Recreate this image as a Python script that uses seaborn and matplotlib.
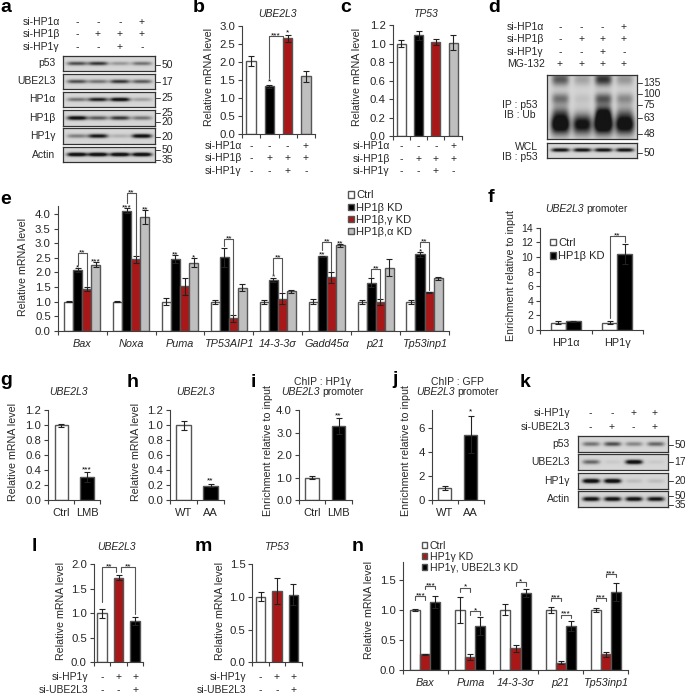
import numpy as np
import pandas as pd
import matplotlib
matplotlib.use("Agg")
import matplotlib.pyplot as plt
from matplotlib.lines import Line2D
from matplotlib.transforms import Affine2D
import seaborn as sns

# =========================
# Data
# =========================
WHITE, BLACK, RED, GREY = "#ffffff", "#000000", "#c00000", "#bfbfbf"

# bar panels
b_vals = [2.02, 1.32, 2.65, 1.60]
b_errs = [0.13, 0.05, 0.10, 0.15]
c_vals = [1.00, 1.09, 1.02, 1.01]
c_errs = [0.04, 0.05, 0.03, 0.08]

e_genes = ["Bax", "Noxa", "Puma", "TP53AIP1", "14-3-3σ", "Gadd45α", "p21", "Tp53inp1"]
e_conds = ["Ctrl", "HP1β KD", "HP1β,γ KD", "HP1β,α KD"]
e_vals = [[1.00, 2.08, 1.43, 2.27], [1.00, 4.12, 2.45, 3.90], [1.00, 2.45, 1.52, 2.34],
          [1.00, 2.52, 0.42, 1.48], [1.00, 1.75, 1.10, 1.35], [1.00, 2.55, 1.83, 2.93],
          [1.00, 1.65, 0.98, 2.17], [1.00, 2.62, 1.32, 1.80]]
e_errs = [[0.02, 0.06, 0.08, 0.08], [0.02, 0.08, 0.12, 0.24], [0.13, 0.14, 0.28, 0.15],
          [0.07, 0.33, 0.12, 0.12], [0.07, 0.07, 0.18, 0.06], [0.09, 0.03, 0.20, 0.05],
          [0.07, 0.15, 0.10, 0.28], [0.07, 0.08, 0.02, 0.05]]

f_groups = ["HP1α", "HP1γ"]
f_conds = ["Ctrl", "HP1β KD"]
f_vals = [[1.0, 1.2], [1.0, 10.4]]
f_errs = [[0.2, 0.1], [0.2, 1.4]]

g_vals, g_errs = [1.00, 0.31], [0.02, 0.07]
h_vals, h_errs = [1.00, 0.19], [0.06, 0.02]
i_vals, i_errs = [1.00, 3.30], [0.08, 0.37]
j_vals, j_errs = [1.00, 5.45], [0.15, 1.55]
l_vals, l_errs = [1.00, 1.72, 0.84], [0.09, 0.05, 0.09]
m_vals, m_errs = [1.00, 1.09, 1.03], [0.07, 0.20, 0.16]

n_genes = ["Bax", "Puma", "14-3-3σ", "p21", "Tp53inp1"]
n_conds = ["Ctrl", "HP1γ KD", "HP1γ, UBE2L3 KD"]
n_vals = [[1.00, 0.26, 1.13], [1.00, 0.22, 0.73], [1.00, 0.36, 1.28], [1.00, 0.12, 0.73], [1.00, 0.26, 1.30]]
n_errs = [[0.015, 0.01, 0.10], [0.22, 0.05, 0.15], [0.09, 0.06, 0.07], [0.05, 0.03, 0.09], [0.03, 0.04, 0.15]]

# brackets: (first bar, second bar, left foot, right foot, top, stars)
e_brackets = [(1, 2, 2.25, 1.55, 2.66, "**"), (5, 6, 4.40, 2.55, 4.74, "**"), (13, 14, 2.90, 0.55, 3.14, "**"),
              (17, 18, 1.90, 1.32, 2.50, "**"), (21, 22, 2.77, 2.05, 3.06, "**"), (25, 26, 1.85, 1.10, 2.12, "**"),
              (29, 30, 2.88, 1.40, 3.06, "**")]
# stars over single bars: (bar, height, stars)
e_stars = [(1, 2.24, "*"), (3, 2.45, "***"), (5, 4.30, "***"), (7, 4.25, "**"), (9, 2.70, "**"), (11, 2.60, "*"),
           (17, 1.92, "*"), (21, 2.68, "**"), (23, 3.08, "**"), (29, 2.80, "*")]
f_brackets = [(2, 3, 1.6, 12.1, 12.9, "**")]
b_brackets = [(1, 1.74, 1.55, 2.55, 2.71, "***")]
b_stars = [(1, 1.50, "*"), (2, 2.86, "*")]
l_brackets = [(0, 0.86, 1.23, 1.83, 1.93, "**"), (1.14, 2, 1.83, 0.98, 1.93, "**")]
n_brackets = [(0, 1, 1.16, 1.16, 1.23, "***"), (1, 2, 1.34, 1.34, 1.40, "***"), (3, 4, 1.30, 1.30, 1.37, "*"),
              (4, 5, 0.92, 0.92, 0.98, "*"), (7, 8, 1.40, 1.40, 1.46, "*"), (9, 10, 1.14, 1.14, 1.20, "***"),
              (10, 11, 0.87, 0.87, 0.92, "***"), (12, 13, 1.14, 1.14, 1.20, "***"), (13, 14, 1.55, 1.55, 1.60, "***")]

# treatment rows
sig_a = ["-", "-", "-", "+"]
sig_b = ["-", "+", "+", "+"]
sig_g = ["-", "-", "+", "-"]
sig_mg = ["+", "+", "+", "+"]
sig_g3 = ["-", "+", "+"]
sig_u3 = ["-", "-", "+"]
sig_kg = ["-", "-", "+", "+"]
sig_ku = ["-", "+", "-", "+"]

# blot band strengths per lane
a_rows = ["p53", "UBE2L3", "HP1α", "HP1β", "HP1γ", "Actin"]
a_bands = [[.55, .65, .25, .40], [.55, .40, .65, .50], [.40, .75, .90, .22],
           [.90, .50, .65, .40], [.35, .80, .15, .90], [1.0, 1.0, 1.0, 1.0]]
k_rows = ["p53", "UBE2L3", "HP1γ", "Actin"]
k_bands = [[.40, .55, .32, .45], [.45, .05, .95, .05], [1.0, 1.0, .10, .10], [.90, .90, .90, .85]]
d_main = [1.0, .85, 1.1, .95]
d_neck = [.35, .05, .70, .25]
d_mid = [.40, .08, .50, .30]
d_upper = [.50, .20, .65, .25]
d_low_band = [.85, .85, .85, .85]

a_mw = [("50", 65), ("17", 82), ("25", 98), ("25", 113), ("20", 122), ("20", 137), ("50", 150), ("35", 160)]
d_mw = [("135", 83), ("100", 94), ("75", 105), ("63", 118), ("48", 134), ("50", 153)]
k_mw = [("50", 445), ("17", 462), ("20", 481), ("50", 496), ("35", 505)]

# =========================
# Figure setup
# =========================
W, H = 685, 694
sns.set_theme(style="ticks")
plt.rcParams["font.family"] = ["Liberation Sans", "DejaVu Sans"]
plt.rcParams["text.color"] = "#262626"

fig = plt.figure(figsize=(W / 100, H / 100), dpi=100, facecolor="white")
PX = Affine2D().scale(1 / W, -1 / H).translate(0, 1) + fig.transFigure
AXC = "#404040"
FS = 7.5


def px_axes(l, t, r, b):
    return fig.add_axes([l / W, 1 - b / H, (r - l) / W, (b - t) / H])


def put(x, y, s, size=FS, ha="left", va="center", **kw):
    fig.text(x, y, s, transform=PX, fontsize=size, ha=ha, va=va, **kw)


def finish_axes(ax, n, ticks, ylim, fmt, ylabel, ylabel_xy, tick_size):
    ax.set_xlim(-0.5, n - 0.5)
    ax.set_ylim(*ylim)
    ax.set_xticks(np.arange(n + 1) - 0.5)
    ax.set_xticklabels([])
    ax.set_yticks(ticks)
    ax.set_yticklabels([fmt % t for t in ticks])
    ax.tick_params(axis="x", which="major", length=3, width=0.8, color=AXC)
    ax.tick_params(axis="x", which="minor", length=0, pad=6)
    ax.tick_params(axis="y", length=3, width=0.8, color=AXC, labelsize=tick_size, pad=2)
    ax.set_xlabel("")
    ax.set_ylabel(ylabel, fontsize=FS + 0.2, labelpad=0)
    # label anchor is its right edge, the numbers below are its centre line
    ax.yaxis.set_label_coords(ylabel_xy[0] + 5.5, ylabel_xy[1], transform=PX)
    sns.despine(ax=ax)
    for s in ("left", "bottom"):
        ax.spines[s].set_color(AXC)
        ax.spines[s].set_linewidth(0.8)


def bar_centres(ax):
    bars = [p for c in ax.containers for p in c]
    return sorted(p.get_x() + p.get_width() / 2 for p in bars)


def draw_errs(ax, xs, vals, errs):
    ax.errorbar(xs, np.ravel(vals), yerr=np.ravel(errs), fmt="none", ecolor="#222222", elinewidth=0.8,
                capsize=2.2, capthick=0.8, zorder=5)


def bar_panel(box, groups, conds, vals, errs, colors, ticks, ylim, width, ylabel="Relative mRNA level",
              ylabel_xy=None, fmt="%.1f", tick_size=8.2, italic=True):
    ax = px_axes(*box)
    df = pd.DataFrame(vals, index=groups, columns=conds).reset_index(names="group").melt(
        id_vars="group", var_name="cond", value_name="value")
    sns.barplot(data=df, x="group", y="value", hue="cond", palette=colors, width=width, gap=0,
                edgecolor="#555555", linewidth=1.0, legend=True, ax=ax)
    handles, names = ax.get_legend_handles_labels()
    ax.get_legend().remove()
    xs = bar_centres(ax)
    draw_errs(ax, xs, vals, errs)
    finish_axes(ax, len(groups), ticks, ylim, fmt, ylabel, ylabel_xy, tick_size)
    ax.set_xticks(np.arange(len(groups)), groups, minor=True, fontsize=FS + 0.3,
                  style="italic" if italic else "normal")
    return ax, xs, handles, names


def one_series(box, names, vals, errs, colors, ticks, ylim, width, labels=True, ylabel="Relative mRNA level",
               ylabel_xy=None, fmt="%.1f"):
    # single row of bars, each with its own colour
    ax = px_axes(*box)
    df = pd.DataFrame({"group": names, "value": vals})
    sns.barplot(data=df, x="group", y="value", hue="group", dodge=False, palette=colors, width=width,
                edgecolor="#555555", linewidth=1.0, legend=False, ax=ax)
    xs = bar_centres(ax)
    draw_errs(ax, xs, vals, errs)
    finish_axes(ax, len(names), ticks, ylim, fmt, ylabel, ylabel_xy, 8.2)
    if labels:
        ax.set_xticks(np.arange(len(names)), names, minor=True, fontsize=8)
    return ax, xs


def star(ax, x, y, stars, lift=-2.8):
    ax.annotate(stars, (x, y), xytext=(0, lift), textcoords="offset points", ha="center", va="baseline",
                fontsize=6, color="black", annotation_clip=False)


def brackets(ax, xs, items):
    pos = np.arange(len(xs))
    for i, j, left, right, top, stars in items:
        x0, x1 = np.interp([i, j], pos, xs)
        ax.plot([x0, x0, x1, x1], [left, top, top, right], color="#555555", lw=0.8, clip_on=False, zorder=6)
        star(ax, (x0 + x1) / 2, top, stars, lift=-1.0)


def sign_rows(ax, xs, rows, ys, label_x, ha="left"):
    # sign columns follow the bar positions, row heights are in pixels
    for (name, signs), y in zip(rows, ys):
        put(label_x, y, name, ha=ha)
        for x, s in zip(xs, signs):
            px_x = PX.inverted().transform(ax.transData.transform((x, 0)))[0]
            put(px_x, y, s, ha="center")


def legend(ax, handles, names, x, y, spacing, size=8):
    ax.legend(handles, names, loc="upper left", bbox_to_anchor=(x, y), bbox_transform=PX, frameon=False,
              fontsize=size, borderpad=0, borderaxespad=0, handlelength=0.5, handleheight=0.5, handletextpad=0.25,
              labelspacing=spacing)


def blot(box, lanes, layers):
    # layers: (height fraction, band strengths, half width px, half height as fraction)
    l, t, r, b = box
    ax = px_axes(l, t, r, b)
    xx, yy = np.meshgrid(np.linspace(l, r, int((r - l) * 3)), np.linspace(0, 1, int((b - t) * 3)))
    img = np.full(xx.shape, 0.84)
    for frac, strengths, sx, sy in layers:
        for cx, st in zip(lanes, strengths):
            img -= st * np.exp(-((np.abs(xx - cx) / sx) ** 4) - ((yy - frac) / sy) ** 2)
    ax.imshow(np.clip(img, 0.08, 1), cmap="gray", vmin=0, vmax=1, aspect="auto", extent=(l, r, b, t),
              interpolation="bilinear")
    ax.set_xticks([])
    ax.set_yticks([])
    for s in ax.spines.values():
        s.set_color("#333333")
        s.set_linewidth(0.9)
    return ax


def mw_marks(items, x0):
    for label, y in items:
        fig.add_artist(Line2D([x0, x0 + 5], [y, y], transform=PX, color=AXC, lw=0.7))
        put(x0 + 6.5, y, label)


def header(lanes, rows, ys, x, ha="left"):
    for (name, signs), y in zip(rows, ys):
        put(x, y, name, ha=ha)
        for cx, s in zip(lanes, signs):
            put(cx, y, s, ha="center")


# =========================
# a - western
# =========================
a_lanes = [77, 98, 120, 142]
header(a_lanes, [("si-HP1α", sig_a), ("si-HP1β", sig_b), ("si-HP1γ", sig_g)], [22, 34, 47], 23)
for name, st, (t, b) in zip(a_rows, a_bands, [(56, 71), (74, 89), (92, 107), (110, 126), (128, 144), (147, 162)]):
    blot((63, t, 155, b), a_lanes, [(0.5, st, 10, 0.13)])
    put(55.5, (t + b) / 2, name, ha="right")
mw_marks(a_mw, 155)

# =========================
# b, c
# =========================
rows3 = [("si-HP1α", sig_a), ("si-HP1β", sig_b), ("si-HP1γ", sig_g)]
names4 = ["A", "B", "C", "D"]
ax, xs = one_series((242, 25.7, 315, 134), names4, b_vals, b_errs, [WHITE, BLACK, RED, GREY],
                    np.arange(0, 3.1, 0.5), (0, 3), 0.52, labels=False, ylabel_xy=(209, 77))
brackets(ax, xs, b_brackets)
for i, y, s in b_stars:
    star(ax, xs[i], y, s)
sign_rows(ax, xs, rows3, [146, 158, 171], 205)
put(277, 14, "UBE2L3", ha="center", style="italic")

ax, xs = one_series((392.7, 25.3, 461.7, 136), names4, c_vals, c_errs, [WHITE, BLACK, RED, GREY],
                    np.arange(0, 1.21, 0.2), (0, 1.2), 0.52, labels=False, ylabel_xy=(357, 77))
sign_rows(ax, xs, rows3, [146, 158.7, 171], 352.7)
put(425, 14, "TP53", ha="center", style="italic")

# =========================
# d - IP blot
# =========================
d_lanes = [560, 581.7, 602.7, 624]
header(d_lanes, [("si-HP1α", sig_a), ("si-HP1β", sig_b), ("si-HP1γ", sig_g), ("MG-132", sig_mg)],
       [26.7, 39.3, 51.7, 64.3], 506.7)
blot((546.7, 74.7, 637, 139), d_lanes,
     [(0.78, d_main, 9.5, 0.15), (0.60, d_neck, 8, 0.12), (0.38, d_mid, 8.5, 0.09), (0.08, d_upper, 8.5, 0.10)])
blot((546.7, 142.7, 637, 158), d_lanes, [(0.5, d_low_band, 9, 0.12)])
mw_marks(d_mw, 637)
put(520, 105, "IP : p53", ha="center")
put(520, 115, "IB : Ub", ha="center")
put(526, 146.7, "WCL", ha="center")
put(520, 156.7, "IB : p53", ha="center")

# =========================
# e
# =========================
ax, xs, hs, ns = bar_panel((57.7, 206, 449, 330.7), e_genes, e_conds, e_vals, e_errs, [WHITE, BLACK, RED, GREY],
                           np.arange(0, 4.1, 0.5), (0, 4.285), 0.74, ylabel_xy=(23, 267))
brackets(ax, xs, e_brackets)
for i, y, s in e_stars:
    star(ax, xs[i], y, s)
legend(ax, hs, ns, 348, 190.5, 0.2)

# =========================
# f
# =========================
ax, xs, hs, ns = bar_panel((540, 227.7, 643, 330), f_groups, f_conds, f_vals, f_errs, [WHITE, BLACK],
                           np.arange(0, 15, 2), (0, 14), 0.58, ylabel="Enrichment relative to input",
                           ylabel_xy=(510.7, 276), fmt="%d", tick_size=7.5, italic=False)
brackets(ax, xs, f_brackets)
legend(ax, hs, ns, 550, 238, 0.30)
put(545, 209, "UBE2L3", style="italic")
put(586, 209, "promoter")

# =========================
# g, h, i, j
# =========================
ax, xs = one_series((48.3, 410, 100, 500), ["Ctrl", "LMB"], g_vals, g_errs, [WHITE, BLACK],
                    np.arange(0, 1.21, 0.2), (0, 1.2), 0.52, ylabel_xy=(12.7, 452))
star(ax, xs[1], 0.43, "***")
put(68, 391.7, "UBE2L3", ha="center", style="italic")

ax, xs = one_series((170, 410, 224, 500), ["WT", "AA"], h_vals, h_errs, [WHITE, BLACK],
                    np.arange(0, 1.21, 0.2), (0, 1.2), 0.52, ylabel_xy=(136, 452))
star(ax, xs[1], 0.29, "**")
put(195, 391.7, "UBE2L3", ha="center", style="italic")

ax, xs = one_series((299, 410.3, 351.7, 500), ["Ctrl", "LMB"], i_vals, i_errs, [WHITE, BLACK],
                    np.arange(0, 4.1, 1.0), (0, 4), 0.52, ylabel="Enrichment relative to input",
                    ylabel_xy=(267.7, 450))
star(ax, xs[1], 3.87, "**")
put(322.5, 382, "ChIP : HP1γ", ha="center")
put(281.7, 391.7, "UBE2L3", style="italic")
put(322.3, 391.7, "promoter")

ax, xs = one_series((431.7, 410, 483.7, 500), ["WT", "AA"], j_vals, j_errs, [WHITE, BLACK],
                    [0, 2, 4, 6], (0, 7.5), 0.52, ylabel="Enrichment relative to input", ylabel_xy=(406, 450),
                    fmt="%d")
star(ax, xs[1], 7.55, "*")
put(457, 382, "ChIP : GFP", ha="center")
put(416.7, 391.7, "UBE2L3", style="italic")
put(457.3, 391.7, "promoter")

# =========================
# k - western
# =========================
k_lanes = [590.7, 612, 633.3, 655]
header(k_lanes, [("si-HP1γ", sig_kg), ("si-UBE2L3", sig_ku)], [413.3, 426.7], 570, ha="right")
for name, st, (t, b) in zip(k_rows, k_bands, [(436, 451.7), (454.3, 470), (473.3, 488.7), (491.3, 507)]):
    blot((577.7, t, 668, b), k_lanes, [(0.5, st, 8.5, 0.14)])
    put(570, (t + b) / 2, name, ha="right")
mw_marks(k_mw, 668)

# =========================
# l, m
# =========================
rows2 = [("si-HP1γ", sig_g3), ("si-UBE2L3", sig_u3)]
ax, xs = one_series((93.7, 564, 143.3, 662.3), ["A", "B", "C"], l_vals, l_errs, [WHITE, RED, BLACK],
                    np.arange(0, 2.1, 0.5), (0, 2), 0.56, labels=False, ylabel_xy=(60.7, 610.7))
brackets(ax, xs, l_brackets)
sign_rows(ax, xs, rows2, [676.7, 690], 88.3, ha="right")
put(116.7, 547, "UBE2L3", ha="center", style="italic")

ax, xs = one_series((252.3, 564, 301.7, 662.3), ["A", "B", "C"], m_vals, m_errs, [WHITE, RED, BLACK],
                    np.arange(0, 1.6, 0.5), (0, 1.5), 0.56, labels=False, ylabel_xy=(219.3, 610.7))
sign_rows(ax, xs, rows2, [676.7, 690], 246.7, ha="right")
put(276, 547, "TP53", ha="center", style="italic")

# =========================
# n
# =========================
ax, xs, hs, ns = bar_panel((402.7, 561.7, 628.3, 669.7), n_genes, n_conds, n_vals, n_errs, [WHITE, RED, BLACK],
                           np.arange(0, 1.6, 0.5), (0, 1.8), 0.665, ylabel_xy=(368.3, 610))
brackets(ax, xs, n_brackets)
legend(ax, hs, ns, 422, 541, 0.08, size=7.6)

# =========================
# panel letters
# =========================
letters = [("a", 0, 8), ("b", 193, 8), ("c", 340, 8), ("d", 488, 8), ("e", 0, 199), ("f", 488, 198),
           ("g", 0, 381), ("h", 127, 383), ("i", 250.7, 383), ("j", 392.7, 380), ("k", 520, 383),
           ("l", 31.7, 547), ("m", 195, 547), ("n", 351.7, 547)]
for s, x, y in letters:
    put(x, y, s, size=14, weight="bold", color="black")

fig.savefig("out.png", dpi=100)
